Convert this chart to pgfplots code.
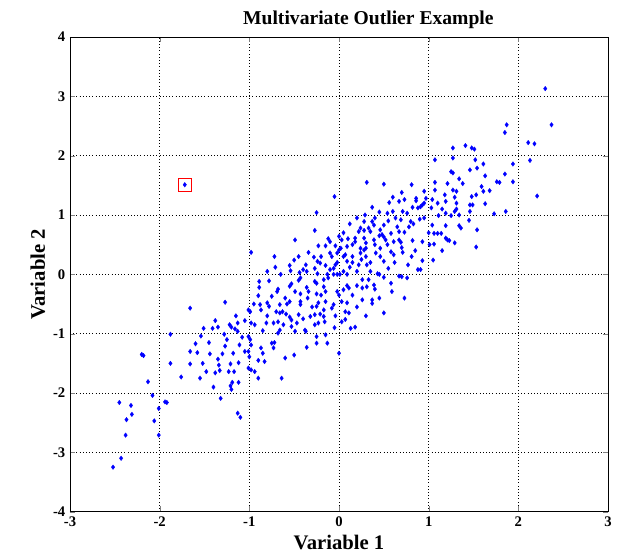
\documentclass[border=0pt]{standalone}
\usepackage{pgfplots}
\pgfplotsset{compat=1.18}
\usepackage{fontspec}
\setmainfont{Liberation Serif}
\begin{document}
\begin{tikzpicture}[x=1pt,y=1pt]
\begin{axis}[
  scale only axis,
  width=403.5pt, height=356pt,
  xmin=-3, xmax=3, ymin=-4, ymax=4,
  xtick={-3,...,3}, ytick={-4,...,4},
  grid=major,
  major grid style={black, dotted, line width=0.5pt},
  axis line style={black, line width=0.5pt},
  tick align=inside,
  tick pos=both,
  major tick length=4pt,
  /pgf/number format/assume math mode=true,
  ticklabel style={font=\fontsize{11}{12}\selectfont\bfseries},
  title={Multivariate Outlier Example},
  title style={font=\fontsize{14.7}{16}\selectfont\bfseries, yshift=-3pt, xshift=22pt},
  xlabel={Variable 1},
  ylabel={Variable 2},
  label style={font=\fontsize{15.5}{17}\selectfont\bfseries},
  xlabel style={yshift=0.5pt},
  ylabel style={yshift=-1pt},
]
\addplot[only marks, mark=diamond*, mark size=1.75pt, color=blue, mark options={fill=blue, draw=blue, line width=0.2pt}] table {
x y
-1.72 1.51
-2.52 -3.25
-2.43 -3.10
-2.38 -2.71
-2.37 -2.45
-2.31 -2.36
-2.32 -2.21
-2.45 -2.16
-2.08 -2.04
-2.01 -2.26
-2.06 -2.47
-2.01 -2.71
-1.94 -2.15
-1.92 -2.16
-2.20 -1.35
-2.18 -1.37
-2.13 -1.81
-1.88 -1.01
-1.88 -1.50
-1.54 -1.04
-1.28 -1.01
-1.13 -0.96
-1.08 -1.06
-1.11 -1.19
-1.27 -1.21
-1.60 -1.17
-1.66 -1.30
-1.58 -1.32
-1.44 -1.34
-1.30 -1.34
-1.18 -1.33
-1.35 -1.43
-1.66 -1.51
-1.52 -1.50
-1.34 -1.53
-1.21 -1.51
-1.12 -1.49
-1.48 -1.64
-1.38 -1.66
-1.33 -1.62
-1.23 -1.64
-1.17 -1.64
-1.76 -1.73
-1.19 -1.82
-1.12 -1.82
-1.21 -1.88
-1.20 -1.94
-1.32 -2.09
-1.13 -2.34
-1.10 -2.41
-1.66 -0.57
-1.27 -0.47
-1.38 -0.78
-1.51 -0.91
-1.41 -0.91
-1.35 -0.89
-1.22 -0.85
-1.20 -0.89
-1.13 -0.82
-1.05 -0.78
-1.16 -0.92
-0.25 1.04
-0.27 0.74
-0.49 0.58
-0.23 0.48
-0.98 0.37
-0.34 0.37
-0.72 0.30
-0.28 0.29
-0.50 0.24
-0.24 0.22
-0.21 0.19
-0.37 0.16
-0.71 0.12
-0.27 0.10
-0.54 0.06
-0.40 0.08
-0.36 0.05
-0.44 0.03
-0.43 -0.06
-0.24 0.01
-0.89 -0.12
-0.89 -0.22
-0.78 -0.11
-0.53 -0.16
-0.27 -0.12
-0.25 -0.15
-0.68 -0.25
-0.36 -0.22
-0.90 -0.36
-0.69 -0.29
-0.75 -0.37
-0.49 -0.29
-0.43 -0.33
-0.34 -0.29
-0.25 -0.33
-0.88 -0.51
-0.80 -0.48
-0.78 -0.54
-0.66 -0.51
-0.58 -0.50
-0.55 -0.46
-0.43 -0.46
-0.43 -0.51
-0.23 -0.48
-0.25 -0.54
-1.01 -0.60
-0.99 -0.63
-0.87 -0.60
-0.70 -0.63
-0.66 -0.65
-0.63 -0.63
-0.59 -0.67
-0.55 -0.72
-0.53 -0.77
-0.45 -0.68
-0.32 -0.71
-0.27 -0.68
-0.21 -0.67
-0.98 -0.82
-0.94 -0.85
-0.81 -0.82
-0.73 -0.82
-0.68 -0.80
-0.66 -0.94
-0.68 -0.99
-0.53 -0.88
-0.49 -0.96
-0.47 -0.82
-0.38 -0.94
-0.37 -0.96
-0.27 -0.85
-0.23 -0.82
-1.01 -1.05
-0.99 -1.10
-0.98 -1.19
-0.75 -1.16
-0.72 -1.15
-0.73 -1.24
-0.25 -1.05
-0.25 -1.16
-0.36 -1.23
-0.87 -1.24
-0.85 -1.33
-0.83 -1.47
-0.60 -1.41
-0.50 -1.36
-1.01 -1.30
-1.00 -1.39
-1.01 -1.58
-0.98 -1.61
-0.94 -1.64
-0.90 -1.75
-0.64 -1.75
0.31 1.55
0.50 1.52
-0.05 1.31
0.37 1.13
0.56 1.21
0.29 1.00
0.54 1.03
0.60 1.06
0.28 0.89
0.37 0.89
0.39 0.83
0.50 0.83
0.63 0.95
0.24 0.78
0.28 0.74
0.22 0.72
0.33 0.78
0.35 0.72
0.46 0.75
0.48 0.67
0.50 0.63
0.52 0.58
0.58 0.69
0.61 0.55
0.00 0.64
0.03 0.58
-0.12 0.60
0.18 0.61
0.18 0.55
0.28 0.61
0.30 0.53
0.39 0.58
-0.04 0.48
0.02 0.44
0.00 0.41
-0.02 0.36
-0.15 0.48
0.09 0.47
0.15 0.50
0.24 0.44
0.28 0.41
0.30 0.44
0.46 0.44
0.54 0.50
0.58 0.38
-0.10 0.36
-0.08 0.30
0.07 0.33
0.15 0.30
0.24 0.36
0.30 0.30
0.41 0.36
0.46 0.30
0.61 0.33
-0.04 0.16
-0.02 0.20
-0.06 0.10
-0.10 0.08
-0.13 0.00
-0.12 -0.06
-0.17 -0.09
-0.02 0.00
0.01 0.00
-0.06 0.00
0.09 0.22
0.22 0.16
0.31 0.16
0.50 0.22
0.05 0.05
0.09 0.00
0.43 0.01
0.45 0.00
0.26 -0.09
0.33 -0.09
0.39 -0.18
0.58 -0.15
0.59 -0.29
0.09 -0.19
0.20 -0.19
0.11 -0.23
0.26 -0.23
0.31 -0.21
-0.17 -0.21
-0.15 -0.29
-0.02 -0.29
0.00 -0.35
0.05 -0.26
0.26 -0.43
0.37 -0.43
0.37 -0.49
0.45 -0.40
0.03 -0.46
0.09 -0.48
-0.06 -0.51
-0.08 -0.57
-0.15 -0.46
-0.17 -0.60
0.07 -0.63
0.11 -0.65
-0.04 -0.70
0.50 -0.65
-0.17 -0.71
-0.16 -0.80
0.03 -0.80
0.07 -0.76
0.13 -0.91
0.18 -0.89
-0.15 -1.02
-0.13 -1.16
0.00 -1.33
1.41 2.17
1.48 2.13
1.27 2.13
1.27 1.96
1.07 1.93
1.25 1.73
1.27 1.71
1.46 1.76
1.34 1.61
1.38 1.53
1.07 1.55
1.21 1.53
1.07 1.42
0.81 1.51
0.70 1.38
1.18 1.34
1.27 1.42
1.31 1.40
1.29 1.30
1.48 1.31
0.86 1.28
0.86 1.24
0.97 1.28
1.04 1.26
0.95 1.20
0.91 1.14
0.93 1.17
0.73 1.26
0.67 1.23
1.19 1.23
1.10 1.20
1.31 1.20
1.46 1.17
0.82 1.13
0.88 1.12
1.03 1.12
1.31 1.10
0.71 1.06
0.76 1.03
0.69 0.92
0.80 0.89
0.83 0.85
0.90 0.93
1.11 0.99
1.19 1.03
1.25 0.99
1.29 1.06
1.34 1.00
1.46 1.06
1.04 0.83
1.19 0.82
1.34 0.82
1.36 0.78
1.45 0.91
0.67 0.72
0.73 0.71
1.06 0.69
1.10 0.69
1.14 0.69
1.19 0.61
1.21 0.58
1.23 0.57
1.29 0.53
0.82 0.57
0.93 0.55
0.67 0.58
0.69 0.54
1.01 0.50
1.06 0.51
0.71 0.37
0.81 0.30
1.05 0.24
0.93 0.23
0.77 0.16
0.88 0.08
0.91 0.08
0.67 -0.03
0.70 -0.04
0.76 -0.06
0.73 -0.40
2.30 3.13
2.37 2.52
1.87 2.52
1.85 2.39
2.11 2.22
2.18 2.20
1.51 2.11
1.52 1.93
1.54 1.79
1.61 1.86
1.94 1.86
2.13 1.92
1.63 1.66
1.85 1.69
1.76 1.56
1.79 1.55
1.94 1.56
1.59 1.48
1.61 1.40
1.68 1.41
1.53 1.34
1.49 1.17
1.63 1.19
1.73 1.02
1.86 1.06
2.21 1.32
1.54 0.75
1.53 0.46
-0.10 0.55
0.05 0.70
0.12 0.85
0.20 0.95
0.15 0.20
0.25 0.25
0.35 0.20
0.40 0.50
0.45 0.65
0.10 0.60
-0.20 0.30
-0.15 0.15
0.05 0.30
0.12 0.12
0.20 0.05
0.35 0.05
0.40 0.95
0.45 1.05
0.55 0.90
0.65 0.80
0.70 0.45
0.62 0.20
0.55 0.10
0.50 -0.05
-0.60 -0.40
-0.55 -0.20
-0.45 -0.10
-0.35 -0.40
-0.30 -0.55
-0.62 -0.85
-0.80 -0.70
-0.85 -0.95
-0.40 -0.75
-0.20 -0.35
-0.65 0.00
-0.55 0.15
-0.80 0.05
-0.45 0.30
-1.45 -1.15
-1.25 -1.10
-1.05 -1.30
-1.15 -0.70
-0.95 -0.50
-1.40 -1.90
-1.55 -1.75
-0.90 -1.45
0.95 0.95
1.00 0.70
0.85 0.40
1.15 0.40
0.60 1.30
0.95 1.40
1.15 1.10
0.78 0.80
0.20 -0.55
0.30 -0.70
0.15 -0.35
0.40 -0.25
-0.05 -0.90
};
\addplot[only marks, mark=square, mark size=5pt, color=red, mark options={line width=0.8pt}] coordinates {(-1.72,1.51)};
\end{axis}
\path ([shift={(-52.5pt,-30.75pt)}]current axis.south west) rectangle ([shift={(13.5pt,27.75pt)}]current axis.north east);
\end{tikzpicture}
\end{document}
